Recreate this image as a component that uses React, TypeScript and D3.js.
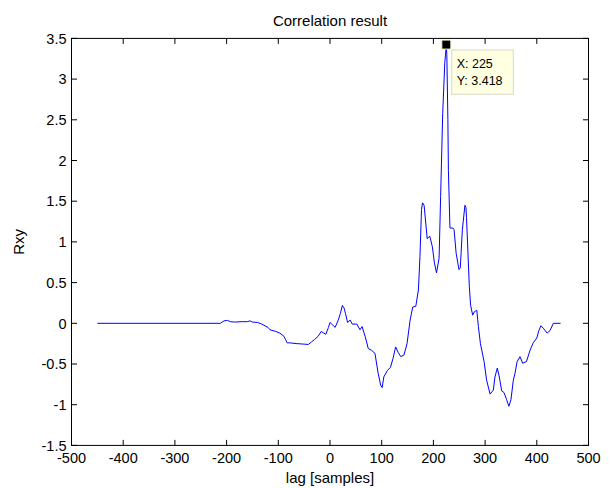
import React from "react";
import * as d3 from "d3";

const lags: number[] = [
  -450, -212, -205, -198, -193, -185, -170, -160, -155, -150, -140, -132, -120, -116, -105, -97, -89, -86, -83, -78,
  -64, -52, -42, -36, -30, -23, -17, -12, -8, -3, 0, 5, 10, 16, 20, 24, 27, 30, 34, 39,
  43, 52, 58, 62, 68, 74, 80, 87, 93, 98, 101, 104, 111, 117, 122, 127, 132, 137, 143, 149,
  155, 160, 166, 171, 174, 177, 179, 182, 188, 193, 198, 202, 206, 211, 214, 218, 222, 225, 226, 228,
  229, 232, 238, 240, 244, 249.5, 252, 256, 261, 263, 264, 266, 269.5, 272, 276, 279, 284, 287, 291, 298,
  303, 309.6, 316, 319, 323.6, 327.5, 332, 336.5, 341.8, 346, 350, 354.6, 358, 362, 367.5, 372.7, 380, 387, 393, 400,
  404, 408, 412.5, 420, 425.5, 432, 446,
];
const values: number[] = [
  0, 0, 0.03, 0.035, 0.02, 0.015, 0.02, 0.02, 0.03, 0.015, 0.01, -0.01, -0.05, -0.08, -0.1, -0.12, -0.16, -0.2, -0.24, -0.24,
  -0.25, -0.255, -0.26, -0.23, -0.2, -0.16, -0.1, -0.12, -0.135, -0.05, 0.01, -0.02, -0.05, 0.04, 0.12, 0.22, 0.19, 0.12, 0.01, 0.04,
  -0.01, -0.01, -0.08, -0.04, -0.16, -0.31, -0.33, -0.37, -0.61, -0.76, -0.79, -0.66, -0.58, -0.54, -0.43, -0.29, -0.36, -0.41, -0.39, -0.25,
  0.04, 0.2, 0.21, 0.41, 0.82, 1.4, 1.48, 1.45, 1.04, 1.07, 0.94, 0.74, 0.62, 0.8, 1.56, 2.58, 3.2, 3.418, 3.3, 2.5,
  1.88, 1.17, 1.17, 1.15, 0.86, 0.66, 0.68, 1.15, 1.45, 1.42, 1.3, 1.0, 0.45, 0.22, 0.1, 0.14, 0.16, -0.04, -0.25, -0.47,
  -0.7, -0.87, -0.82, -0.66, -0.55, -0.66, -0.83, -0.85, -0.94, -1.02, -0.94, -0.7, -0.61, -0.47, -0.41, -0.49, -0.47, -0.33, -0.24, -0.18,
  -0.09, -0.03, -0.06, -0.12, -0.09, 0, 0,
];
const xTicks: number[] = [-500, -400, -300, -200, -100, 0, 100, 200, 300, 400, 500];
const yTicks: number[] = [-1.5, -1, -0.5, 0, 0.5, 1, 1.5, 2, 2.5, 3, 3.5];
const titleText = "Correlation result";
const xLabel = "lag [samples]";
const yLabel = "Rxy";
const tipX = 225;
const tipY = 3.418;

const W = 611;
const H = 488;
const left = 71.5;
const right = 588.5;
const top = 38.4;
const bottom = 445.4;
const FONT = "'Liberation Sans', Arial, Helvetica, sans-serif";
const FS = 14.5;
const TICK = 5.5;

export default function App() {
  const x = d3.scaleLinear().domain([-500, 500]).range([left, right]);
  const y = d3.scaleLinear().domain([-1.5, 3.5]).range([bottom, top]);
  const pts: [number, number][] = lags.map((l, i) => [l, values[i]]);
  const line = d3
    .line<[number, number]>()
    .x((d) => x(d[0]))
    .y((d) => y(d[1]))(pts) as string;

  const mx = x(tipX);
  const my = y(tipY);

  return (
    <svg
      width={W}
      height={H}
      style={{ position: "absolute", left: 0, top: 0, display: "block", background: "#fff" }}
      fontFamily={FONT}
    >
      <rect x={0} y={0} width={W} height={H} fill="#fff" />
      {/* data */}
      <path d={line} fill="none" stroke="#0000ff" strokeWidth={1} strokeLinejoin="round" />
      {/* box */}
      <rect x={left} y={top} width={right - left} height={bottom - top} fill="none" stroke="#000" strokeWidth={1} />
      {/* x ticks */}
      {xTicks.map((t) => (
        <g key={"x" + t}>
          <line x1={x(t)} x2={x(t)} y1={bottom} y2={bottom - TICK} stroke="#000" />
          <line x1={x(t)} x2={x(t)} y1={top} y2={top + TICK} stroke="#000" />
          <text x={x(t)} y={462.5} textAnchor="middle" fontSize={FS} fill="#000">
            {String(t)}
          </text>
        </g>
      ))}
      {yTicks.map((t) => (
        <g key={"y" + t}>
          <line x1={left} x2={left + TICK} y1={y(t)} y2={y(t)} stroke="#000" />
          <line x1={right} x2={right - TICK} y1={y(t)} y2={y(t)} stroke="#000" />
          <text x={left - 5} y={y(t)} dy="0.36em" textAnchor="end" fontSize={FS} fill="#000">
            {String(t)}
          </text>
        </g>
      ))}
      <text x={(left + right) / 2} y={25.7} textAnchor="middle" fontSize={15} fill="#000">
        {titleText}
      </text>
      <text x={(left + right) / 2} y={482.5} textAnchor="middle" fontSize={15} fill="#000">
        {xLabel}
      </text>
      <text
        transform={`translate(23.5,${(top + bottom) / 2}) rotate(-90)`}
        textAnchor="middle"
        fontSize={15}
        fill="#000"
      >
        {yLabel}
      </text>
      {/* data tip */}
      <rect x={mx - 4.5} y={my - 5} width={9} height={9} fill="#000" stroke="#f5f5c8" strokeWidth={1} />
      <rect x={451.7} y={50} width={61.6} height={44.3} fill="#ffffe1" stroke="#d8d8cc" strokeWidth={1} />
      <text x={456.7} y={68.3} fontSize={12.5} fill="#000">
        {`X: ${tipX}`}
      </text>
      <text x={456.7} y={85} fontSize={12.5} fill="#000">
        {`Y: ${tipY}`}
      </text>
    </svg>
  );
}
